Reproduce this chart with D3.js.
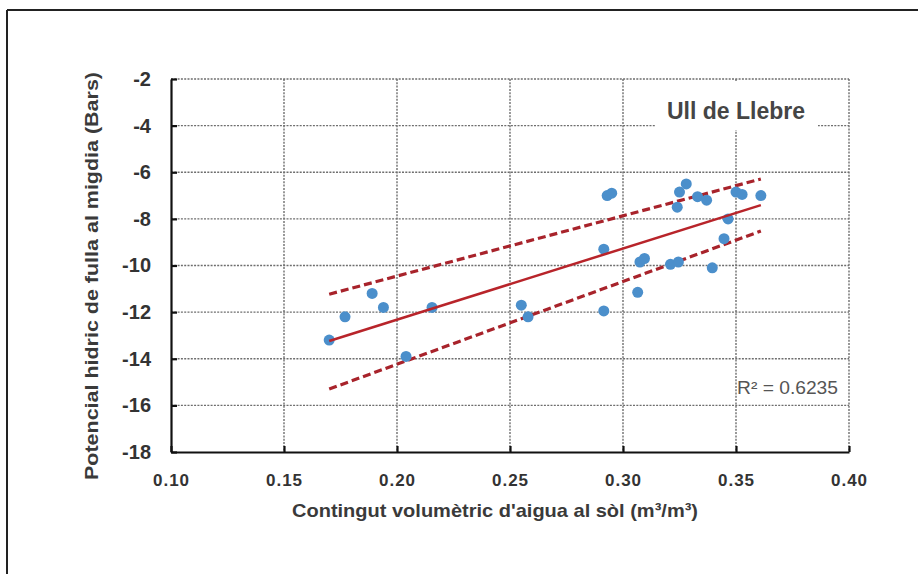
<!DOCTYPE html>
<html>
<head>
<meta charset="utf-8">
<script src="https://cdn.jsdelivr.net/npm/d3@7"></script>
<style>
  html, body { margin: 0; padding: 0; background: #fff; }
  svg { display: block; font-family: "Liberation Sans", Arial, sans-serif; }
</style>
</head>
<body>
<svg id="chart" width="918" height="574"></svg>
<script>
// ---- data ----
const soilWater = [0.170, 0.177, 0.189, 0.194, 0.204, 0.2155, 0.255, 0.258, 0.2915, 0.2915,
                   0.293, 0.295, 0.3065, 0.3075, 0.3095, 0.321, 0.3245, 0.324, 0.325, 0.328,
                   0.333, 0.337, 0.3395, 0.3447, 0.3465, 0.350, 0.3527, 0.361];
const leafPotential = [-13.2, -12.2, -11.2, -11.8, -13.9, -11.8, -11.7, -12.2, -9.3, -11.95,
                       -7.0, -6.9, -11.15, -9.85, -9.7, -9.95, -9.85, -7.5, -6.85, -6.5,
                       -7.05, -7.2, -10.1, -8.85, -8.0, -6.85, -6.95, -7.0];
const trendX = [0.170, 0.361];
const trendY = [-13.24, -7.41];
const upperY = [-11.23, -6.29];
const lowerY = [-15.3, -8.52];
const xTicks = [0.10, 0.15, 0.20, 0.25, 0.30, 0.35, 0.40];
const yTicks = [-18, -16, -14, -12, -10, -8, -6, -4, -2];
const siteLabel = "Ull de Llebre";
const r2Label = "R\u00B2 = 0.6235";
const xTitle = "Contingut volum\u00E8tric d'aigua al s\u00F2l (m\u00B3/m\u00B3)";
const yTitle = "Potencial hidric de fulla al migdia (Bars)";

// ---- layout ----
const svg = d3.select("#chart");
const L = 171, R = 849, T = 79, B = 452;
const x = d3.scaleLinear().domain([0.10, 0.40]).range([L, R]);
const y = d3.scaleLinear().domain([-18, -2]).range([B, T]);

// outer frame (top + left)
svg.append("line").attr("x1", 7).attr("x2", 918).attr("y1", 10).attr("y2", 10)
  .attr("stroke", "#222").attr("stroke-width", 2);
svg.append("line").attr("x1", 7).attr("x2", 7).attr("y1", 10).attr("y2", 574)
  .attr("stroke", "#222").attr("stroke-width", 2);

// grid
const grid = svg.append("g").attr("stroke", "#6e6e6e").attr("stroke-width", 1.4)
  .attr("stroke-dasharray", "2,1.3");
grid.selectAll("line.v").data(xTicks.slice(1)).join("line").attr("class", "v")
  .attr("x1", d => x(d)).attr("x2", d => x(d)).attr("y1", T).attr("y2", B);
grid.selectAll("line.h").data(yTicks.slice(1)).join("line").attr("class", "h")
  .attr("x1", L).attr("x2", R).attr("y1", d => y(d)).attr("y2", d => y(d));

// axes
const xAxis = d3.axisBottom(x).tickValues(xTicks).tickFormat(d3.format(".2f"))
  .tickSizeInner(-6).tickSizeOuter(0).tickPadding(22);
const yAxis = d3.axisLeft(y).tickValues(yTicks).tickFormat(d => String(d))
  .tickSizeInner(-6).tickSizeOuter(0).tickPadding(20);

const gx = svg.append("g").attr("transform", `translate(0,${B})`).call(xAxis);
const gy = svg.append("g").attr("transform", `translate(${L},0)`).call(yAxis);
[gx, gy].forEach(g => {
  g.select(".domain").attr("stroke", "#111").attr("stroke-width", 2.2);
  g.selectAll(".tick line").attr("stroke", "#111").attr("stroke-width", 2.2);
  g.selectAll(".tick text").attr("fill", "#333").attr("font-weight", "bold")
    .attr("font-family", "'Liberation Sans', Arial, sans-serif");
});
gx.selectAll(".tick text").attr("font-size", 17).style("letter-spacing", "1px");
gy.selectAll(".tick text").attr("font-size", 20);

// regression lines
const line = d3.line().x(d => x(d[0])).y(d => y(d[1]));
svg.append("path").datum(d3.zip(trendX, upperY)).attr("d", line)
  .attr("fill", "none").attr("stroke", "#a8232b").attr("stroke-width", 3.2)
  .attr("stroke-dasharray", "8,4");
svg.append("path").datum(d3.zip(trendX, lowerY)).attr("d", line)
  .attr("fill", "none").attr("stroke", "#a8232b").attr("stroke-width", 3.2)
  .attr("stroke-dasharray", "8,4");

// points
svg.append("g").selectAll("circle").data(d3.zip(soilWater, leafPotential)).join("circle")
  .attr("cx", d => x(d[0])).attr("cy", d => y(d[1])).attr("r", 5.5)
  .attr("fill", "#4b8fcb");

svg.append("path").datum(d3.zip(trendX, trendY)).attr("d", line)
  .attr("fill", "none").attr("stroke", "#b8242a").attr("stroke-width", 2.5);

// site label with white box
svg.append("rect").attr("x", 655).attr("y", 82).attr("width", 163).attr("height", 48)
  .attr("fill", "#fff");
svg.append("text").attr("x", 736).attr("y", 119).attr("text-anchor", "middle")
  .attr("font-size", 23).attr("font-weight", "bold").attr("fill", "#454545")
  .text(siteLabel);

// R2
svg.append("text").attr("x", 737).attr("y", 394).attr("font-size", 18)
  .attr("fill", "#555").attr("textLength", 101).attr("lengthAdjust", "spacingAndGlyphs")
  .text(r2Label);

// axis titles
svg.append("text").attr("x", 495).attr("y", 517).attr("text-anchor", "middle")
  .attr("font-size", 19).attr("font-weight", "bold").attr("fill", "#3a3a3a")
  .attr("textLength", 406).attr("lengthAdjust", "spacingAndGlyphs")
  .text(xTitle);
svg.append("text").attr("transform", "translate(98,276) rotate(-90)")
  .attr("text-anchor", "middle")
  .attr("font-size", 19).attr("font-weight", "bold").attr("fill", "#3a3a3a")
  .attr("textLength", 408).attr("lengthAdjust", "spacingAndGlyphs")
  .text(yTitle);
</script>
</body>
</html>
